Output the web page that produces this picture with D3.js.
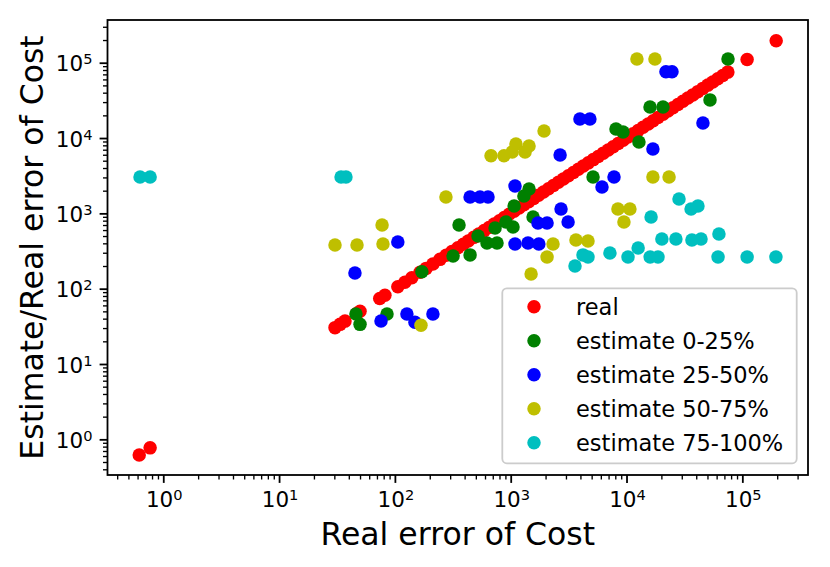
<!DOCTYPE html>
<html>
<head>
<meta charset="utf-8">
<script src="https://cdn.jsdelivr.net/npm/d3@7"></script>
<style>
  body { margin: 0; background: #fff; }
  svg text { font-family: "DejaVu Sans", sans-serif; fill: #000; }
</style>
</head>
<body>
<svg id="chart" width="830" height="567"></svg>
<script>
// real error of cost (estimate == real for this series)
const realCost = [0.62, 0.77, 30.4, 33.6, 37.1, 47, 50, 74, 82, 106, 122, 140, 165, 186, 213, 245,
  277, 311, 350, 390, 430, 480, 530, 590, 650, 720, 800, 880, 970, 1070, 1180, 1300, 1430, 1580,
  1740, 1920, 2120, 2340, 2580, 2850, 3150, 3480, 3840, 4240, 4680, 5170, 5700, 6300, 6950, 7680,
  8480, 9360, 10300, 11400, 12600, 13900, 15400, 17000, 18700, 20700, 22800, 25200, 27800, 30700,
  33900, 37400, 41300, 45600, 50400, 55600, 61400, 67800, 75000, 110000, 196000];

// [real, estimate/real]
const est0to25 = [[75200, 112000], [52600, 32100], [15960, 25900], [20650, 25900], [8110, 13200],
  [9330, 12050], [12800, 8870], [5140, 3040], [1440, 2110], [1300, 1700], [1070, 1250], [1560, 895],
  [358, 702], [733, 640], [910, 769], [1047, 659], [522, 501], [624, 405], [762, 405], [446, 281],
  [318, 272], [171, 168], [46.1, 46.1], [50, 33.6], [85.5, 46.1]];

const est25to50 = [[21900, 75700], [24700, 75700], [45700, 15850], [3960, 17900], [4830, 17900],
  [16900, 7160], [2670, 5970], [6140, 2240], [7800, 3040], [1090, 2310], [446, 1650], [543, 1650],
  [637, 1650], [2720, 1140], [3130, 769], [1720, 745], [2060, 745], [1090, 393], [1410, 405],
  [1750, 393], [106, 417], [45.2, 161], [75.9, 37.2], [127, 46.1], [149, 35.8], [213, 46.1]];

const est50to75 = [[12300, 112000], [17600, 112000], [1940, 12400], [676, 5800], [875, 5800],
  [1030, 6530], [1110, 8350], [1330, 6530], [1440, 7850], [276, 1650], [16900, 3040], [23300, 3040],
  [8430, 1140], [10700, 1140], [9500, 769], [2320, 393], [2060, 264], [1500, 157], [3660, 444],
  [4650, 430], [77.5, 702], [30.4, 380], [47.1, 380], [78.9, 393], [168, 32.7]];

const est75to100 = [[0.63, 3040], [0.77, 3040], [34.3, 3040], [37.8, 3040], [28400, 1550],
  [36100, 1140], [41400, 1250], [16300, 895], [4210, 281], [4650, 264], [3590, 200], [7190, 298],
  [10300, 264], [12600, 347], [16000, 264], [18700, 264], [20200, 457], [26700, 457], [36700, 444],
  [44000, 457], [62800, 532], [61700, 264], [110000, 264], [195000, 264]];

const seriesNames = ["real", "estimate 0-25%", "estimate 25-50%", "estimate 50-75%", "estimate 75-100%"];
const seriesColors = ["#ff0000", "#008000", "#0000ff", "#bfbf00", "#00bfbf"];
const majorTicks = [1, 10, 100, 1000, 10000, 100000];

const series = [realCost.map(d => [d, d]), est0to25, est25to50, est50to75, est75to100];

const svg = d3.select("#chart");
const plotL = 107.5, plotR = 808, plotT = 20, plotB = 475;
const fs = 22.5, tickFs = 21.5;

const x = d3.scaleLog().domain([0.33, 3.69e5]).range([plotL, plotR]);
const y = d3.scaleLog().domain([0.336, 3.69e5]).range([plotB, plotT]);

// points
series.forEach((pts, i) => {
  svg.append("g").selectAll("circle")
    .data(pts).enter().append("circle")
    .attr("cx", d => x(d[0]))
    .attr("cy", d => y(d[1]))
    .attr("r", 6.75)
    .attr("fill", seriesColors[i]);
});

// axes: minor ticks then major ticks
const minorX = x.ticks().filter(v => !majorTicks.includes(v));
const minorY = y.ticks().filter(v => !majorTicks.includes(v));

function styleAxis(g, w) {
  g.select(".domain").remove();
  g.selectAll("line").attr("stroke", "#000").attr("stroke-width", w);
}

svg.append("g").attr("transform", `translate(0,${plotB})`)
  .call(d3.axisBottom(x).tickValues(minorX).tickSize(4.5).tickFormat(""))
  .call(g => styleAxis(g, 1.35));
svg.append("g").attr("transform", `translate(0,${plotB})`)
  .call(d3.axisBottom(x).tickValues(majorTicks).tickSize(7.9).tickFormat(""))
  .call(g => styleAxis(g, 1.8));
svg.append("g").attr("transform", `translate(${plotL},0)`)
  .call(d3.axisLeft(y).tickValues(minorY).tickSize(4.5).tickFormat(""))
  .call(g => styleAxis(g, 1.35));
svg.append("g").attr("transform", `translate(${plotL},0)`)
  .call(d3.axisLeft(y).tickValues(majorTicks).tickSize(7.9).tickFormat(""))
  .call(g => styleAxis(g, 1.8));

// tick labels as 10^n
function powLabel(sel) {
  sel.style("font-size", tickFs + "px")
    .text("10")
    .append("tspan")
    .attr("dy", -7)
    .style("font-size", (tickFs * 0.68) + "px")
    .text(d => Math.round(Math.log10(d)));
}
svg.append("g").selectAll("text").data(majorTicks).enter().append("text")
  .attr("x", d => x(d) + 1)
  .attr("y", 506.5)
  .attr("text-anchor", "middle")
  .call(powLabel);
svg.append("g").selectAll("text").data(majorTicks).enter().append("text")
  .attr("x", 92.5)
  .attr("y", d => y(d) + 8.5)
  .attr("text-anchor", "end")
  .call(powLabel);

// frame
svg.append("rect")
  .attr("x", plotL).attr("y", plotT)
  .attr("width", plotR - plotL).attr("height", plotB - plotT)
  .attr("fill", "none").attr("stroke", "#000").attr("stroke-width", 1.8);

// axis titles
svg.append("text")
  .attr("x", (plotL + plotR) / 2).attr("y", 545)
  .attr("text-anchor", "middle")
  .style("font-size", "31.5px")
  .text("Real error of Cost");
svg.append("text")
  .attr("transform", `translate(43,${(plotT + plotB) / 2}) rotate(-90)`)
  .attr("text-anchor", "middle")
  .style("font-size", "31.5px")
  .text("Estimate/Real error of Cost");

// legend
const legend = svg.append("g");
legend.append("rect")
  .attr("x", 502.3).attr("y", 288.3)
  .attr("width", 294.4).attr("height", 175)
  .attr("rx", 4.5)
  .attr("fill", "#fff").attr("fill-opacity", 0.8)
  .attr("stroke", "#cccccc").attr("stroke-width", 1.8);
const rows = legend.selectAll("g.row").data(seriesNames).enter().append("g")
  .attr("transform", (d, i) => `translate(0,${306.7 + i * 34})`);
rows.append("circle")
  .attr("cx", 534).attr("cy", 0).attr("r", 6.75)
  .attr("fill", (d, i) => seriesColors[i]);
rows.append("text")
  .attr("x", 576).attr("y", 8.2)
  .style("font-size", fs + "px")
  .text(d => d);
</script>
</body>
</html>
